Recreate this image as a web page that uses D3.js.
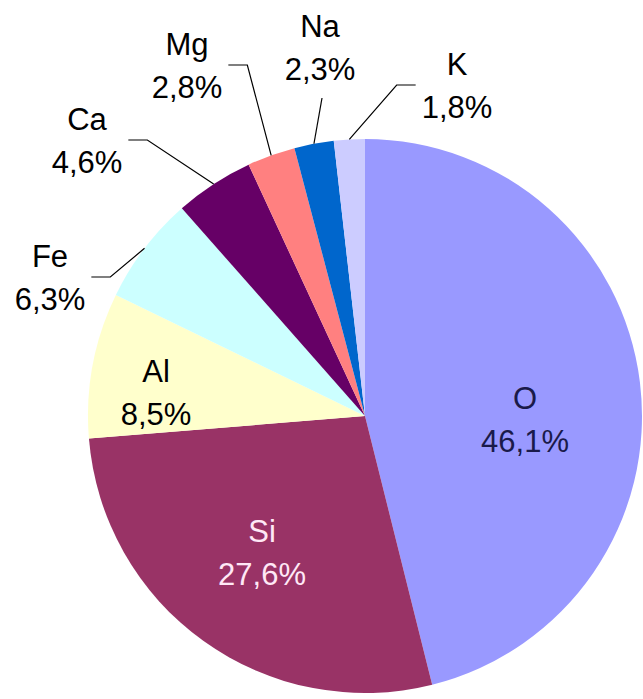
<!DOCTYPE html>
<html>
<head>
<meta charset="utf-8">
<script src="https://cdn.jsdelivr.net/npm/d3@7"></script>
<style>
  body { margin: 0; background: #fff; }
  text { font-family: "Liberation Sans", Arial, sans-serif; }
</style>
</head>
<body>
<script>
// data
const elements = ['O', 'Si', 'Al', 'Fe', 'Ca', 'Mg', 'Na', 'K'];
const shares = [46.1, 27.6, 8.5, 6.3, 4.6, 2.8, 2.3, 1.8];
const colors = ['#9999ff', '#993366', '#ffffcc', '#ccffff', '#660066', '#ff8080', '#0066cc', '#ccccff'];

// label layout (page coords of first-line baseline centre) and leader style
const labelXY = [[525, 409], [262, 542], [156, 382], [50, 267], [87, 130], [187, 55], [320, 37], [457, 75]];
const leaderSide = [null, null, null, 'left', 'left', 'left', 'below', 'right'];
const textColors = ['#1a1a4a', '#ffe8f6', '#000', '#000', '#000', '#000', '#000', '#000'];

const width = 643;
const height = 699;
const cx = 365, cy = 416, radius = 277;
const fontSize = 31;
const lineGap = 43;

let svg = d3.select('body')
    .append('svg')
    .attr('width', width)
    .attr('height', height);

let pie = d3.pie()
    .sort(null)
    .value(d => d);

let arcs = pie(shares);

let arc = d3.arc()
    .innerRadius(0)
    .outerRadius(radius);

let edgeArc = d3.arc()
    .innerRadius(radius)
    .outerRadius(radius);

let pieGroup = svg.append('g')
    .attr('transform', `translate(${cx}, ${cy})`);

pieGroup.selectAll('.slice')
    .data(arcs)
    .enter()
    .append('path')
    .classed('slice', true)
    .attr('d', arc)
    .style('fill', (d, i) => colors[i]);

let fmt = v => v.toFixed(1).replace('.', ',') + '%';

// labels
let labelGroup = svg.append('g').classed('labels', true);

let labels = labelGroup.selectAll('.label')
    .data(arcs)
    .enter()
    .append('text')
    .classed('label', true)
    .attr('text-anchor', 'middle')
    .style('font-size', fontSize + 'px')
    .style('fill', (d, i) => textColors[i]);

labels.append('tspan')
    .attr('x', (d, i) => labelXY[i][0])
    .attr('y', (d, i) => labelXY[i][1])
    .text((d, i) => elements[i]);

labels.append('tspan')
    .attr('x', (d, i) => labelXY[i][0])
    .attr('y', (d, i) => labelXY[i][1] + lineGap)
    .text(d => fmt(d.data));

// leader lines
let leaders = svg.append('g').classed('leaders', true);

labels.each(function (d, i) {
    let side = leaderSide[i];
    if (!side) return;
    let [lx, ly] = labelXY[i];
    let half = d3.max(Array.from(this.childNodes), n => n.getComputedTextLength()) / 2;
    let [px, py] = edgeArc.centroid(d);
    px += cx;
    py += cy;
    let pts;
    if (side === 'left') {
        let x0 = lx + half + 6;
        pts = [[x0, ly + 10], [x0 + 19, ly + 10], [px, py]];
    } else if (side === 'right') {
        let x0 = lx - half - 6;
        pts = [[x0, ly + 10], [x0 - 19, ly + 10], [px, py]];
    } else {
        pts = [[lx + 2, ly + lineGap + 18], [px, py]];
    }
    leaders.append('path')
        .attr('d', d3.line()(pts))
        .style('fill', 'none')
        .style('stroke', '#000')
        .style('stroke-width', 1.2);
});
</script>
</body>
</html>
